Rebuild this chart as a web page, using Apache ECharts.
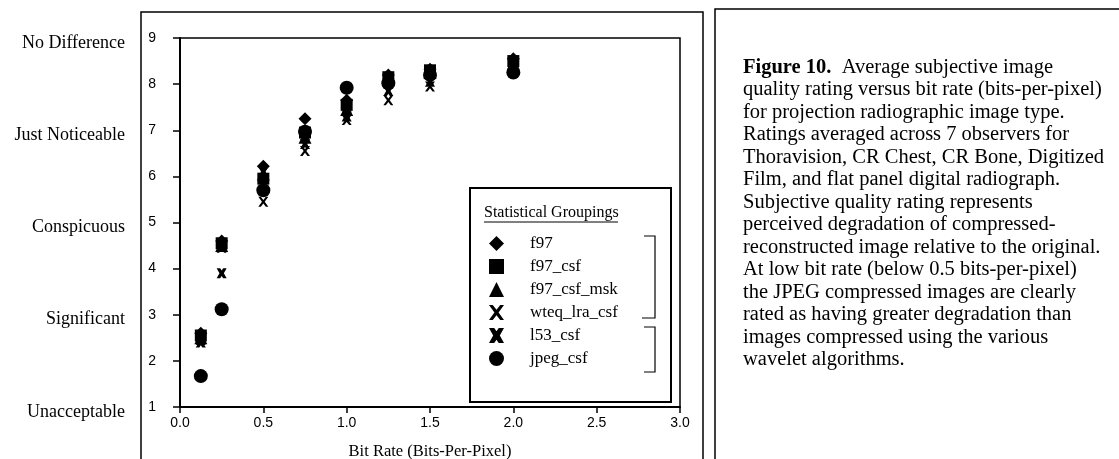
<!DOCTYPE html>
<html><head><meta charset="utf-8">
<script src="https://cdn.jsdelivr.net/npm/echarts@6/dist/echarts.min.js"></script>
<style>html,body{margin:0;padding:0;background:#fff}#c{width:1119px;height:459px}</style>
</head><body><div id="c"></div>
<script>
// ---- data ----
const bitRates = [0.125, 0.25, 0.5, 0.75, 1.0, 1.25, 1.5, 2.0];
const f97        = [2.60, 4.60, 6.22, 7.25, 7.65, 8.20, 8.32, 8.55];
const f97_csf    = [2.55, 4.55, 5.95, 6.95, 7.55, 8.15, 8.30, 8.50];
const f97_csf_msk= [2.50, 4.50, 6.05, 6.85, 7.45, 8.10, 8.25, 8.45];
const wteq_lra_csf=[2.45, 4.45, 5.45, 6.55, 7.22, 7.65, 7.95, 8.40];
const l53_csf    = [2.40, 3.90, 6.10, 6.70, 7.30, 7.85, 8.05, 8.45];
const jpeg_csf   = [1.67, 3.12, 5.70, 6.97, 7.92, 8.02, 8.20, 8.25];
const seriesNames = ['f97','f97_csf','f97_csf_msk','wteq_lra_csf','l53_csf','jpeg_csf'];
const seriesValues = [f97, f97_csf, f97_csf_msk, wteq_lra_csf, l53_csf, jpeg_csf];
const ratingValues = [1, 3, 5, 7, 9];
const ratingLabels = ['Unacceptable','Significant','Conspicuous','Just Noticeable','No Difference'];
const xTicks = [0, 0.5, 1.0, 1.5, 2.0, 2.5, 3.0];
const captionLines = [
  'quality rating versus bit rate (bits-per-pixel)',
  'for projection radiographic image type.',
  'Ratings averaged across 7 observers for',
  'Thoravision, CR Chest, CR Bone, Digitized',
  'Film, and flat panel digital radiograph.',
  'Subjective quality rating represents',
  'perceived degradation of compressed-',
  'reconstructed image relative to the original.',
  'At low bit rate (below 0.5 bits-per-pixel)',
  'the JPEG compressed images are clearly',
  'rated as having greater degradation than',
  'images compressed using the various',
  'wavelet algorithms.'
];

const thinX = 'path://M0,0 L2.5,0 L5,3.2 L7.5,0 L10,0 L6.4,5 L10,10 L7.5,10 L5,6.8 L2.5,10 L0,10 L3.6,5 Z';
const boldX = 'path://M0,0 L3.5,0 L5,2.2 L6.5,0 L10,0 L7.2,5 L10,10 L6.5,10 L5,7.8 L3.5,10 L0,10 L2.8,5 Z';
const symbols = ['diamond','rect','triangle',thinX,boldX,'circle'];
const sizes = [13,12,13,10,10,14];

const serif = 'Liberation Serif';
const sans = 'Liberation Sans';

const chart = echarts.init(document.getElementById('c'), null, {renderer:'canvas'});
const series = seriesNames.map((n,i)=>({
  name:n, type:'scatter', symbol:symbols[i], symbolSize:sizes[i],
  itemStyle:{color:'#000', opacity:1},
  data: bitRates.map((x,j)=>[x, seriesValues[i][j]]),
  z: 10 - i
}));

const graphics = [
  // outer panel boxes
  {type:'rect', shape:{x:141,y:12,width:562,height:460}, style:{fill:'none',stroke:'#000',lineWidth:1.5}, z:1},
  {type:'rect', shape:{x:715,y:9,width:420,height:460}, style:{fill:'none',stroke:'#000',lineWidth:1.5}, z:1},
  // legend box
  {type:'rect', shape:{x:470,y:188,width:201,height:214}, style:{fill:'#fff',stroke:'#000',lineWidth:2}, z:20},
  {type:'text', x:484, y:213, style:{text:'Statistical Groupings', fontFamily:serif, fontSize:16, fill:'#000', align:'left', verticalAlign:'middle'}, z:21},
  {type:'line', shape:{x1:484,y1:222,x2:618,y2:222}, style:{stroke:'#000',lineWidth:1}, z:21},
  // brackets
  {type:'polyline', shape:{points:[[644,236],[655,236],[655,318],[642,318]]}, style:{fill:'none',stroke:'#000',lineWidth:1.2}, z:21},
  {type:'polyline', shape:{points:[[644,327],[655,327],[655,372],[644,372]]}, style:{fill:'none',stroke:'#000',lineWidth:1.2}, z:21},
  // caption
  {type:'text', x:743, y:56, style:{
    text:'{b|Figure 10.}  Average subjective image\n' + captionLines.join('\n'),
    rich:{b:{fontWeight:'bold', fontFamily:serif, fontSize:20.5, lineHeight:22.5}},
    fontFamily:serif, fontSize:20.5, fill:'#000', lineHeight:22.5}, z:5}
];

chart.setOption({
  animation:false,
  backgroundColor:'#fff',
  grid:{left:180, right:439, top:38, bottom:52, containLabel:false, outerBoundsMode:'none',
    show:true, borderColor:'#000', borderWidth:1.5, backgroundColor:'transparent'},
  xAxis:{type:'value', min:0, max:3, interval:0.5,
    name:'Bit Rate (Bits-Per-Pixel)', nameLocation:'middle', nameGap:36,
    nameTextStyle:{fontFamily:serif, fontSize:16.5, color:'#000'},
    axisLine:{lineStyle:{color:'#000', width:2}}, axisTick:{inside:false, length:6, lineStyle:{color:'#000', width:1.5}},
    axisLabel:{fontFamily:sans, fontSize:14, color:'#000', margin:9,
      formatter:v=>xTicks.indexOf(v)>=0 ? v.toFixed(1) : ''},
    splitLine:{show:false}},
  yAxis:[
    {type:'value', min:1, max:9, interval:1,
     axisLine:{show:true, lineStyle:{color:'#000', width:2}}, axisTick:{show:true, length:7, lineStyle:{color:'#000', width:1.5}},
     axisLabel:{fontFamily:sans, fontSize:14, color:'#000', margin:24},
     splitLine:{show:false}},
    {type:'value', min:1, max:9, interval:1, position:'left', offset:55,
     axisLine:{show:false}, axisTick:{show:false}, splitLine:{show:false},
     axisLabel:{fontFamily:serif, fontSize:18, color:'#000', margin:0, align:'right', verticalAlign:'top', lineHeight:10,
       formatter:v=>{const k=ratingValues.indexOf(v); return k>=0?ratingLabels[k]:'';}}}
  ],
  legend:{show:true, orient:'vertical', left:484, top:230, itemWidth:15, itemHeight:15, itemGap:6,
    data:seriesNames.map((n,i)=>({name:n, icon:symbols[i]})),
    textStyle:{fontFamily:serif, fontSize:17, color:'#000', padding:[0,0,0,21]},
    inactiveColor:'#000', selectedMode:false, z:30},
  series: series,
  graphic: graphics
});
</script></body></html>
